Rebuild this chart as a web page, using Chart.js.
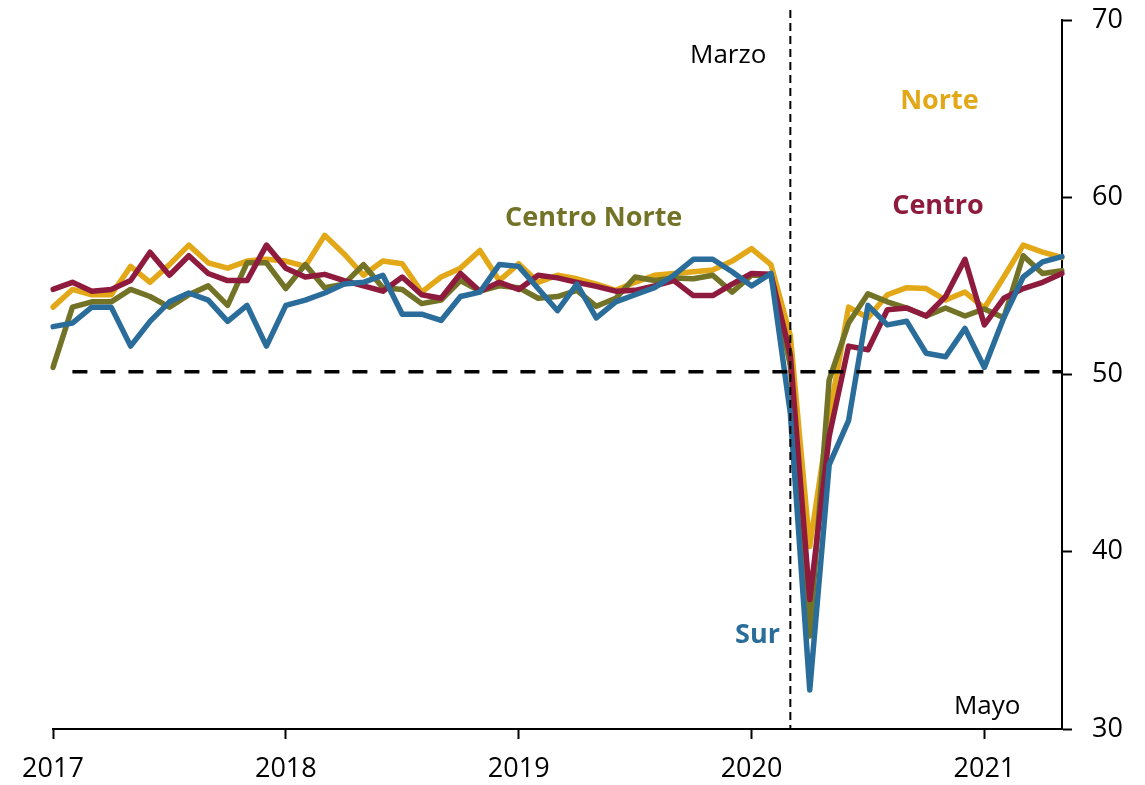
<!DOCTYPE html>
<html><head><meta charset="utf-8">
<script src="https://cdn.jsdelivr.net/npm/chart.js@4/dist/chart.umd.min.js"></script>
<style>html,body{margin:0;padding:0;background:#fff;overflow:hidden;}</style>
</head><body>
<canvas id="c" width="1145" height="785"></canvas>
<script>
const months = [
 '2017-01','2017-02','2017-03','2017-04','2017-05','2017-06','2017-07','2017-08','2017-09','2017-10','2017-11','2017-12',
 '2018-01','2018-02','2018-03','2018-04','2018-05','2018-06','2018-07','2018-08','2018-09','2018-10','2018-11','2018-12',
 '2019-01','2019-02','2019-03','2019-04','2019-05','2019-06','2019-07','2019-08','2019-09','2019-10','2019-11','2019-12',
 '2020-01','2020-02','2020-03','2020-04','2020-05','2020-06','2020-07','2020-08','2020-09','2020-10','2020-11','2020-12',
 '2021-01','2021-02','2021-03','2021-04','2021-05'];
const yearTicks = ['2017','2018','2019','2020','2021'];
const yTicks = [30,40,50,60,70];

const norte = [53.8,54.8,54.5,54.5,56.1,55.2,56.2,57.3,56.3,56.0,56.4,56.5,
 56.4,56.1,57.85,56.8,55.6,56.4,56.25,54.65,55.5,56.0,57.0,55.3,
 56.25,55.2,55.6,55.4,55.1,54.75,55.2,55.6,55.7,55.8,55.9,56.4,
 57.1,56.2,52.2,40.3,47.6,53.8,53.2,54.5,54.9,54.85,54.2,54.65,
 53.75,55.5,57.3,56.9,56.6];
const centroNorte = [50.4,53.8,54.1,54.1,54.8,54.4,53.8,54.5,55.0,53.9,56.3,56.3,
 54.85,56.2,54.9,55.1,56.2,54.9,54.8,54.0,54.2,55.3,54.7,55.0,
 54.9,54.3,54.4,54.75,53.85,54.3,55.5,55.3,55.45,55.4,55.6,54.65,
 55.6,55.6,50.5,35.25,49.7,52.9,54.55,54.1,53.75,53.3,53.75,53.3,
 53.7,53.2,56.7,55.7,55.85];
const centro = [54.8,55.2,54.7,54.8,55.3,56.9,55.6,56.7,55.7,55.3,55.3,57.3,
 56.0,55.5,55.65,55.3,55.0,54.7,55.5,54.5,54.3,55.7,54.7,55.2,
 54.8,55.6,55.45,55.2,54.97,54.7,54.75,55.0,55.3,54.45,54.45,55.1,
 55.7,55.65,51.1,37.3,46.5,51.6,51.4,53.65,53.75,53.3,54.4,56.5,
 52.8,54.3,54.85,55.2,55.7];
const sur = [52.7,52.9,53.8,53.8,51.6,53.0,54.1,54.6,54.2,53.0,53.9,51.6,
 53.9,54.2,54.6,55.1,55.2,55.6,53.4,53.4,53.05,54.4,54.65,56.2,
 56.1,54.85,53.6,55.1,53.2,54.1,54.5,54.9,55.6,56.5,56.5,55.8,
 55.0,55.7,47.8,32.2,44.9,47.4,53.9,52.8,53.0,51.2,51.0,52.6,
 50.4,53.2,55.5,56.35,56.65];
const umbral = [null,50.15,50.15,50.15,50.15,50.15,50.15,50.15,50.15,50.15,50.15,50.15,
 50.15,50.15,50.15,50.15,50.15,50.15,50.15,50.15,50.15,50.15,50.15,50.15,
 50.15,50.15,50.15,50.15,50.15,50.15,50.15,50.15,50.15,50.15,50.15,50.15,
 50.15,50.15,50.15,50.15,50.15,50.15,50.15,50.15,50.15,50.15,50.15,50.15,
 50.15,50.15,50.15,50.15,50.15];
const marchIndex = 38;

const FONT = "'Open Sans', 'DejaVu Sans', sans-serif";
const colors = {norte:'#E3A817', centroNorte:'#737327', centro:'#8E1B3D', sur:'#2A6D9B'};

const notes = [
  {text:'Marzo', color:'#000', bold:false, size:26, idx:32.83, val:67.6},
  {text:'Norte', color:colors.norte, bold:true, size:27, idx:43.66, val:65.0},
  {text:'Centro', color:colors.centro, bold:true, size:27, idx:43.25, val:59.08},
  {text:'Centro Norte', color:colors.centroNorte, bold:true, size:27, idx:23.3, val:58.35},
  {text:'Sur', color:colors.sur, bold:true, size:27, idx:35.15, val:34.88},
  {text:'Mayo', color:'#000', bold:false, size:26, idx:46.43, val:30.87}
];

const annot = {
  id:'annot',
  afterDatasetsDraw(chart){
    const {ctx, chartArea, scales:{x,y}} = chart;
    const xm = x.getPixelForValue(marchIndex);
    ctx.save();
    ctx.strokeStyle = '#000'; ctx.lineWidth = 2; ctx.setLineDash([8,5]);
    ctx.beginPath(); ctx.moveTo(xm, chartArea.top - 10); ctx.lineTo(xm, chartArea.bottom); ctx.stroke();
    ctx.setLineDash([]);
    ctx.textAlign = 'left'; ctx.textBaseline = 'alphabetic';
    notes.forEach(n => {
      ctx.font = (n.bold ? 'bold ' : '') + n.size + 'px ' + FONT;
      ctx.fillStyle = n.color;
      ctx.fillText(n.text, x.getPixelForValue(n.idx), y.getPixelForValue(n.val));
    });
    ctx.restore();
  }
};

function line(data, color, extra){
  return Object.assign({data, borderColor:color, backgroundColor:color, borderWidth:5.5,
    pointRadius:0, tension:0, fill:false, borderJoinStyle:'round', borderCapStyle:'round', spanGaps:false}, extra||{});
}

new Chart(document.getElementById('c'), {
  type:'line',
  data:{
    labels: months,
    datasets:[
      line(umbral, '#000', {borderWidth:3.5, borderDash:[15,13], borderCapStyle:'butt', label:'50'}),
      line(sur, colors.sur, {label:'Sur'}),
      line(centro, colors.centro, {label:'Centro'}),
      line(centroNorte, colors.centroNorte, {label:'Centro Norte'}),
      line(norte, colors.norte, {label:'Norte'})
    ]
  },
  options:{
    responsive:false, animation:false, devicePixelRatio:1,
    layout:{padding:{left:53, top:20, right:0, bottom:0}},
    plugins:{legend:{display:false}, tooltip:{enabled:false}},
    scales:{
      x:{
        type:'category', offset:false,
        grid:{display:true, drawOnChartArea:false, drawTicks:true, tickLength:10, tickWidth:2,
          tickColor:(c)=> (c.index % 12 === 0 ? '#000' : 'rgba(0,0,0,0)')},
        border:{display:true, color:'#000', width:2},
        ticks:{autoSkip:false, maxRotation:0, minRotation:0, padding:14, color:'#000',
          font:{family:FONT, size:27},
          callback:(v,i)=> (i % 12 === 0 ? yearTicks[i/12] : '')},
        afterFit:(s)=>{ s.height = 56; s.paddingLeft = 0; s.paddingRight = 0; }
      },
      y:{
        position:'right', min:30, max:70,
        afterBuildTicks:(s)=>{ s.ticks = yTicks.map(v=>({value:v})); },
        grid:{display:true, drawOnChartArea:false, drawTicks:true, tickLength:10, tickWidth:2, tickColor:'#000'},
        border:{display:true, color:'#000', width:2},
        ticks:{padding:20, color:'#000', font:{family:FONT, size:27}},
        afterFit:(s)=>{ s.width = 83; s.paddingTop = 0; s.paddingBottom = 0; }
      }
    }
  },
  plugins:[annot]
});
</script>
</body></html>
